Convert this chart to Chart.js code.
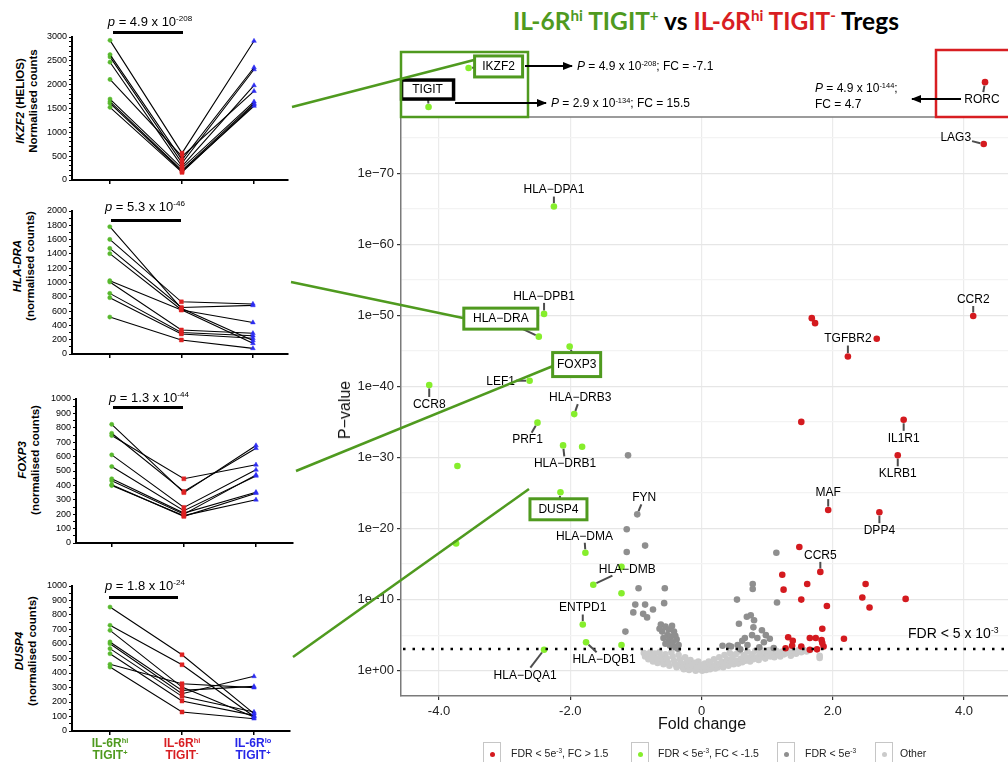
<!DOCTYPE html>
<html lang="en">
<head>
<meta charset="UTF-8">
<title>IL-6Rhi TIGIT+ vs IL-6Rhi TIGIT- Tregs</title>
<script src="https://cdn.jsdelivr.net/npm/chart.js"></script>
<style>
body{margin:0;background:#fff;font-family:"Liberation Sans",Arial,Helvetica,sans-serif;color:#000}
#page{position:relative;width:1008px;height:762px;overflow:hidden}
canvas{position:absolute}
.abs{position:absolute;white-space:nowrap}
sup{font-size:62%;line-height:0;vertical-align:0.6em}
#title{left:513px;top:6px;font:bold 24.5px Lato,"Open Sans",sans-serif;line-height:30px}
.green{color:#4f9a1f}.red{color:#d81e22}.blue{color:#2626e8}
.ytitle{transform:translate(-50%,-50%) rotate(-90deg);font-weight:bold;font-size:11.5px;line-height:12.5px;text-align:center}
.plab{font-size:13px;transform:translate(-50%,-50%)}
.pbar{position:absolute;height:3px;background:#000}
.cat{font-weight:bold;font-size:12px;line-height:12px;text-align:center;transform:translateX(-50%)}
.ann{font-size:12px;line-height:16px}
.axt{font-size:16px;color:#111}
.leg{font-size:10.5px;color:#222}
.legbox{position:absolute;width:16px;height:24px;border:1.5px solid #c6c6c6;background:#fff}
.legdot{position:absolute;width:5px;height:5px;border-radius:50%;left:5.5px;top:8.5px}
</style>
</head>
<body>
<div id="page">
  <div id="title" class="abs"><span class="green">IL-6R<sup>hi</sup> TIGIT<sup>+</sup></span> vs <span class="red">IL-6R<sup>hi</sup> TIGIT<sup>-</sup></span> Tregs</div>

  <!-- paired plots -->
  <canvas id="p1"></canvas>
  <canvas id="p2"></canvas>
  <canvas id="p3"></canvas>
  <canvas id="p4"></canvas>

  <div class="abs ytitle" style="left:26px;top:101px"><i>IKZF2</i> (HELIOS)<br>Normalised counts</div>
  <div class="abs ytitle" style="left:23px;top:266px"><i>HLA-DRA</i><br>(normalised counts)</div>
  <div class="abs ytitle" style="left:28px;top:460px"><i>FOXP3</i><br>(normalised counts)</div>
  <div class="abs ytitle" style="left:25px;top:651px"><i>DUSP4</i><br>(normalised counts)</div>

  <div class="abs plab" style="left:150px;top:21px"><i>p</i> = 4.9 x 10<sup>-208</sup></div>
  <div class="pbar" style="left:113px;top:31px;width:70px"></div>
  <div class="abs plab" style="left:145px;top:206px"><i>p</i> = 5.3 x 10<sup>-46</sup></div>
  <div class="pbar" style="left:111px;top:219px;width:70px"></div>
  <div class="abs plab" style="left:149px;top:397px"><i>p</i> = 1.3 x 10<sup>-44</sup></div>
  <div class="pbar" style="left:113px;top:406px;width:70px"></div>
  <div class="abs plab" style="left:145px;top:585px"><i>p</i> = 1.8 x 10<sup>-24</sup></div>
  <div class="pbar" style="left:109px;top:596px;width:69px"></div>

  <div class="abs cat green" style="left:110px;top:737px">IL-6R<sup>hi</sup><br>TIGIT<sup>+</sup></div>
  <div class="abs cat red" style="left:182px;top:737px">IL-6R<sup>hi</sup><br>TIGIT<sup>-</sup></div>
  <div class="abs cat blue" style="left:253px;top:737px">IL-6R<sup>lo</sup><br>TIGIT<sup>+</sup></div>

  <!-- volcano -->
  <canvas id="volcano"></canvas>
  <div class="abs axt" style="left:345px;top:410px;transform:translate(-50%,-50%) rotate(-90deg)">P−value</div>
  <div class="abs axt" style="left:702px;top:724px;transform:translate(-50%,-50%)">Fold change</div>
  <div class="abs" style="left:908px;top:625px;font-size:14px">FDR &lt; 5 x 10<sup>-3</sup></div>

  <div class="abs ann" style="left:577px;top:58px"><i>P</i> = 4.9 x 10<sup>-208</sup>; FC = -7.1</div>
  <div class="abs ann" style="left:551px;top:95px"><i>P</i> = 2.9 x 10<sup>-134</sup>; FC = 15.5</div>
  <div class="abs ann" style="left:815px;top:80px"><i>P</i> = 4.9 x 10<sup>-144</sup>;<br>FC = 4.7</div>

  <!-- legend -->
  <div class="legbox" style="left:483px;top:742px"><div class="legdot" style="background:#d41a1f"></div></div>
  <div class="abs leg" style="left:511px;top:747px">FDR &lt; 5e<sup>-3</sup>, FC &gt; 1.5</div>
  <div class="legbox" style="left:631px;top:742px"><div class="legdot" style="background:#86ee2c"></div></div>
  <div class="abs leg" style="left:658px;top:747px">FDR &lt; 5e<sup>-3</sup>, FC &lt; -1.5</div>
  <div class="legbox" style="left:777px;top:742px"><div class="legdot" style="background:#8f8f8f"></div></div>
  <div class="abs leg" style="left:805px;top:747px">FDR &lt; 5e<sup>-3</sup></div>
  <div class="legbox" style="left:875px;top:742px"><div class="legdot" style="background:#cbcbcb"></div></div>
  <div class="abs leg" style="left:900px;top:747px">Other</div>

  <svg class="abs" width="1008" height="762" style="left:0;top:0;pointer-events:none">
    <defs>
      <marker id="ah" markerWidth="10" markerHeight="8" refX="9" refY="4" orient="auto" markerUnits="userSpaceOnUse">
        <path d="M0,0 L10,4 L0,8 z" fill="#000"/>
      </marker>
    </defs>
    <!-- connectors -->
    <g stroke="#4f9a1f" stroke-width="2.5" fill="none">
      <line x1="292" y1="107" x2="474" y2="60"/>
      <line x1="291" y1="282" x2="463" y2="318"/>
      <line x1="296" y1="471" x2="553" y2="366"/>
      <line x1="293" y1="657" x2="529" y2="489"/>
      <rect x="401" y="52" width="127" height="65"/>
    </g>
    <rect x="936" y="50" width="80" height="67" stroke="#d81e22" stroke-width="2.5" fill="none"/>
    <g stroke="#000" stroke-width="2">
      <line x1="525" y1="66" x2="572" y2="66" marker-end="url(#ah)"/>
      <line x1="455" y1="103" x2="546" y2="103" marker-end="url(#ah)"/>
      <line x1="961" y1="99" x2="912" y2="99" marker-end="url(#ah)"/>
    </g>
  </svg>
</div>

<script>
/* ---------- data: paired counts (rows = donors, cols = groups) ---------- */
const groups = ['IL-6Rhi TIGIT+', 'IL-6Rhi TIGIT-', 'IL-6Rlo TIGIT+'];
const ikzf2Counts = [[2930,564,2916],[2631,425,2360],[2582,355,2318],[2471,285,1984],[2109,494,1865],
                     [1698,250,1643],[1643,202,1608],[1608,180,1552],[1524,160,1580]];
const hladraCounts = [[1780,640,190],[1603,730,700],[1477,650,680],[1403,620,150],[1025,615,440],
                      [1007,336,290],[848,300,256],[788,280,220],[517,196,79]];
const foxp3Counts  = [[824,350,677],[762,358,658],[746,446,543],[612,247,508],[531,224,466],
                      [446,208,353],[432,200,473],[404,185,346],[399,190,300]];
const dusp4Counts  = [[855,526,120],[729,457,100],[694,303,97],[614,280,308],[602,257,377],
                      [568,239,131],[533,207,108],[460,326,299],[441,131,85]];

/* ---------- data: volcano  [gene, fold change, -log10 P] ---------- */
// IKZF2, TIGIT and RORC sit above the axis break (top inset)
const upGenes = [
  ['LAG3',4.30,74.1],['CCR2',4.14,49.9],['',1.68,49.6],['',1.73,48.9],['',2.67,46.7],['TGFBR2',2.23,44.2],
  ['',1.52,35.0],['IL1R1',3.08,35.3],['KLRB1',2.99,30.3],['MAF',1.93,22.6],['DPP4',2.71,22.3],['',1.49,17.4],
  ['CCR5',1.81,13.9],['',1.23,13.5],['',1.61,12.2],['',2.50,12.2],['',1.25,11.4],['',1.52,10.0],['',2.45,10.3],
  ['',3.11,10.1],['',1.91,9.1],['',2.56,8.9],['',1.84,5.9],['',2.17,4.5],['',1.32,4.7],['',1.39,4.2],['',1.65,4.6],
  ['',1.74,4.6],['',1.83,4.3],['',1.28,3.15],['',1.38,3.5],['',1.52,3.4],['',1.65,2.95],['',1.76,3.0],['',1.86,3.4],
  ['',1.84,3.9],['RORC',4.32,82.8]
];
const downGenes = [
  ['HLA−DPA1',-2.25,65.3],['HLA−DPB1',-2.40,50.2],['HLA−DRA',-2.48,47.0],['FOXP3',-2.01,45.6],['LEF1',-2.62,40.8],
  ['CCR8',-4.15,40.2],['HLA−DRB3',-1.94,36.1],['PRF1',-2.50,34.9],['HLA−DRB1',-2.11,31.7],['',-1.82,31.5],
  ['',-3.72,28.8],['DUSP4',-2.15,25.1],['',-3.74,17.9],['HLA−DMA',-1.77,16.6],['',-1.22,14.6],['HLA−DMB',-1.65,12.1],
  ['',-1.22,10.9],['ENTPD1',-1.81,6.5],['HLA−DQB1',-1.76,4.0],['',-1.22,3.6],['HLA−DQA1',-2.40,2.95],
  ['IKZF2',-3.55,84.8],['TIGIT',-4.16,79.3]
];
const sigGenes = [
  ['FYN',-0.98,22.0],['',-1.12,30.3],['',-1.14,19.9],['',-0.86,17.6],['',-1.14,16.7],['',-0.96,11.6],['',-0.56,11.6],
  ['',-0.57,9.5],['',-1.01,9.3],['',-1.04,8.2],['',-0.89,8.0],['',-0.83,7.5],['',-0.74,8.6],['',-0.86,9.3],['',-1.16,5.5],
  ['',-0.62,6.5],['',-0.55,6.2],['',-0.50,5.8],['',-0.45,6.3],['',-0.60,5.5],['',-0.52,5.0],['',-0.47,4.8],['',-0.42,5.5],
  ['',-0.58,4.6],['',-0.50,4.2],['',-0.44,4.0],['',-0.38,4.4],['',-0.55,3.8],['',-0.48,3.5],['',-0.40,3.3],['',-0.35,3.6],
  ['',-0.36,3.1],['',-0.64,5.9],['',-0.40,4.9],
  ['',1.14,16.6],['',0.78,12.2],['',0.78,11.5],['',0.54,10.0],['',1.15,9.6],['',0.75,7.8],['',0.69,7.6],['',0.80,7.1],
  ['',0.57,6.6],['',0.79,6.1],['',0.92,5.7],['',0.98,5.0],['',1.04,4.5],['',0.66,4.6],['',0.62,4.2],['',0.77,5.0],
  ['',0.85,4.6],['',0.70,3.6],['',0.55,3.6],['',0.45,3.4],['',0.32,3.5],['',0.42,3.5],['',0.59,3.0],['',0.88,3.3],
  ['',0.95,4.0],['',1.10,3.2]
];
const otherGenes = [
  [-0.88,2.5],[-0.86,2.0],[-0.83,2.3],[-0.81,1.6],[-0.78,2.6],[-0.76,2.0],[-0.74,1.3],[-0.71,2.4],[-0.69,1.7],[-0.67,1.1],
  [-0.64,2.6],[-0.62,2.0],[-0.60,1.4],[-0.58,0.9],[-0.55,2.3],[-0.53,1.7],[-0.51,1.1],[-0.49,0.7],[-0.46,2.6],[-0.44,2.0],
  [-0.42,1.4],[-0.40,0.9],[-0.38,0.5],[-0.35,2.2],[-0.33,1.6],[-0.31,1.0],[-0.29,0.5],[-0.27,0.2],
  [-0.25,1.9],[-0.23,1.2],[-0.21,0.6],[-0.19,0.1],[-0.17,1.5],[-0.15,0.8],[-0.13,0.3],[-0.11,1.1],[-0.09,0.0],[-0.07,0.5],
  [-0.05,1.3],[-0.03,0.2],[-0.01,0.8],[0.01,0.0],[0.03,0.4],[0.05,1.0],[0.07,0.1],[0.09,0.6],[0.11,1.3],[0.13,0.2],
  [0.15,0.8],[0.17,0.4],[0.19,1.6],[0.21,0.3],[0.23,1.0],[0.25,0.5],
  [0.27,1.9],[0.29,0.8],[0.31,1.3],[0.33,0.5],[0.35,2.2],[0.37,1.0],[0.39,1.6],[0.41,0.7],[0.43,2.5],[0.45,1.2],
  [0.47,1.9],[0.49,0.9],[0.52,2.3],[0.54,1.4],[0.56,1.0],[0.58,2.7],[0.60,1.7],[0.62,1.2],[0.65,2.2],[0.67,1.4],
  [0.70,2.7],[0.72,1.8],[0.74,1.3],[0.77,2.3],[0.79,1.6],[0.82,2.8],[0.84,1.9],[0.87,1.5],[0.89,2.5],[0.92,2.0],
  [0.95,2.8],[0.97,1.7],[1.00,2.3],[1.03,2.9],[1.05,2.0],[1.08,2.5],[1.11,1.9],[1.14,2.8],[1.17,2.3],[1.20,2.0],
  [1.23,2.7],[1.26,2.3],[1.30,2.9],[1.33,2.5],[1.36,2.1],[1.40,2.8],[1.44,2.4],[1.48,2.9],[1.52,2.6],[1.56,2.9],
  [1.60,2.7],[1.65,2.9],[1.80,2.1],[1.80,1.8]
];
const fdrLogP = 3.05;
const xTicks = [-4, -2, 0, 2, 4];

/* ---------- styles ---------- */
Chart.defaults.font.family = '"Liberation Sans", Arial, Helvetica, sans-serif';
const C_UP = '#d41a1f', C_DOWN = '#86ee2c', C_SIG = '#8f8f8f', C_OTHER = '#cbcbcb', C_BOX = '#4f9a1f';

// label placement (px from point) and boxed labels
const labelOffsets = {
  'HLA−DPA1':[0,-17],'HLA−DPB1':[0,-18],'HLA−DRA':[-38,-18],'FOXP3':[7,18],'LEF1':[-29,0],'CCR8':[0,19],
  'HLA−DRB3':[6,-17],'PRF1':[-10,17],'HLA−DRB1':[2,18],'FYN':[7,-17],'DUSP4':[-2,17],'HLA−DMA':[-1,-17],
  'HLA−DMB':[34,-16],'ENTPD1':[0,-17],'HLA−DQB1':[18,17],'HLA−DQA1':[-19,25],'LAG3':[-28,-7],'CCR2':[0,-17],
  'TGFBR2':[0,-18],'IL1R1':[0,18],'KLRB1':[0,18],'MAF':[0,-18],'DPP4':[0,18],'CCR5':[0,-17],
  'IKZF2':[30,-1.5],'TIGIT':[-1,-17.5],'RORC':[-3,17]
};
const labelBoxes = {
  'HLA−DRA':{w:74,h:21,c:C_BOX,lw:3}, 'FOXP3':{w:48,h:24,c:C_BOX,lw:3}, 'DUSP4':{w:57,h:21,c:C_BOX,lw:3},
  'IKZF2':{w:48,h:21,c:C_BOX,lw:3}, 'TIGIT':{w:52,h:19,c:'#000',lw:3.5}
};

/* ---------- paired panels ---------- */
function makePanel(id, area, rows, yMax, minor, major, xMin, xMax){
  const cv = document.getElementById(id);
  cv.width = area.r - area.l + 44; cv.height = area.b - area.t + 24;
  cv.style.left = (area.l - 32) + 'px'; cv.style.top = (area.t - 12) + 'px';
  new Chart(cv, {
    type:'line',
    data:{datasets: rows.map(r => ({
      data: r.map((v,i) => ({x:i+1, y:v})),
      borderColor:'#000', borderWidth:1.1, tension:0, clip:false,
      pointStyle:['circle','rect','triangle'], pointRadius:[2.1,2.8,2.7],
      pointBackgroundColor:['#58b82e','#de2222','#2c2cf2'],
      pointBorderColor:['#58b82e','#de2222','#2c2cf2'], pointBorderWidth:0.5
    }))},
    options:{
      responsive:false, animation:false, events:[],
      layout:{padding:{top:12,right:12,left:0,bottom:0}, autoPadding:false},
      plugins:{legend:{display:false}, tooltip:{enabled:false}},
      scales:{
        x:{type:'linear', min:xMin, max:xMax,
           afterBuildTicks:s => { s.ticks = [1,2,3].map(v => ({value:v})); },
           afterFit:s => { s.height = 12; },
           grid:{drawOnChartArea:false, color:'#000', lineWidth:1.5, tickLength:4},
           border:{color:'#000', width:2},
           ticks:{callback:() => '', autoSkip:false}},
        y:{type:'linear', min:0, max:yMax,
           afterBuildTicks:s => { const t=[]; for(let v=0; v<=yMax; v+=minor) t.push({value:v}); s.ticks=t; },
           afterFit:s => { s.width = 32; },
           grid:{drawOnChartArea:false, color:'#000', lineWidth:1, tickLength:3},
           border:{color:'#000', width:2},
           ticks:{autoSkip:false, padding:2, color:'#000', font:{size:9},
                  callback:v => v % major === 0 ? String(v) : ''}}
      }
    }
  });
}
makePanel('p1', {l:72,t:37,r:288,b:180}, ikzf2Counts, 3000, 100, 500, 0.472, 3.472);
makePanel('p2', {l:72,t:211,r:288,b:354}, hladraCounts, 2000, 100, 200, 0.472, 3.49);
makePanel('p3', {l:76,t:399,r:293,b:543}, foxp3Counts, 1000, 50, 100, 0.505, 3.513);
makePanel('p4', {l:72,t:586,r:290,b:731}, dusp4Counts, 1000, 50, 100, 0.472, 3.5);

/* ---------- volcano ---------- */
const volcanoDecor = {
  id:'volcanoDecor',
  afterDatasetsDraw(chart){
    const {ctx, chartArea:a, scales:{y}} = chart;
    ctx.save();
    ctx.strokeStyle = '#7a7a7a'; ctx.lineWidth = 1.5;
    ctx.beginPath(); ctx.moveTo(a.left, a.top); ctx.lineTo(a.right, a.top); ctx.stroke();
    const yy = y.getPixelForValue(fdrLogP);
    ctx.setLineDash([2.5,7]); ctx.lineWidth = 2.5; ctx.strokeStyle = '#000';
    ctx.beginPath(); ctx.moveTo(a.left + 2, yy); ctx.lineTo(a.right, yy); ctx.stroke();
    ctx.setLineDash([]);
    ctx.font = '12px "Liberation Sans", Arial, sans-serif';
    ctx.textAlign = 'center'; ctx.textBaseline = 'middle';
    chart.data.datasets.forEach((ds, d) => {
      const meta = chart.getDatasetMeta(d);
      ds.data.forEach((pt, i) => {
        const el = meta.data[i];
        // points above the axis break are skipped by Chart.js, draw them here
        if (el.y < a.top) {
          ctx.fillStyle = ds.backgroundColor;
          ctx.beginPath(); ctx.arc(el.x, el.y, ds.pointRadius, 0, Math.PI*2); ctx.fill();
        }
        if (!pt.name) return;
        const off = labelOffsets[pt.name] || [0,-17];
        const px = el.x, py = el.y, lx = px + off[0], ly = py + off[1];
        const box = labelBoxes[pt.name];
        const tw = ctx.measureText(pt.name).width;
        const hw = box ? box.w/2 : tw/2 + 1, hh = box ? box.h/2 : 7;
        const vx = px - lx, vy = py - ly, dist = Math.hypot(vx, vy);
        const t = Math.min(vx ? hw/Math.abs(vx) : Infinity, vy ? hh/Math.abs(vy) : Infinity);
        if (t < 1) {
          const sx = lx + vx*t, sy = ly + vy*t, ex = px - vx/dist*3.5, ey = py - vy/dist*3.5;
          if (Math.hypot(ex-sx, ey-sy) > 1) {
            ctx.strokeStyle = '#4d4d4d'; ctx.lineWidth = 2;
            ctx.beginPath(); ctx.moveTo(sx, sy); ctx.lineTo(ex, ey); ctx.stroke();
          }
        }
        if (box) {
          ctx.fillStyle = '#fff'; ctx.fillRect(lx-hw, ly-hh, box.w, box.h);
          ctx.strokeStyle = box.c; ctx.lineWidth = box.lw; ctx.strokeRect(lx-hw, ly-hh, box.w, box.h);
        }
        ctx.fillStyle = '#000'; ctx.fillText(pt.name, lx, ly + 0.5);
      });
    });
    ctx.restore();
  }
};

const vc = document.getElementById('volcano');
vc.width = 678; vc.height = 722; vc.style.left = '330px'; vc.style.top = '40px';
const toPts = arr => arr.map(g => ({x:g[1], y:g[2], name:g[0]}));
new Chart(vc, {
  type:'scatter',
  data:{datasets:[
    {label:'FDR < 5e-3, FC > 1.5', data:toPts(upGenes), backgroundColor:C_UP, pointRadius:3.3, pointBorderWidth:0, clip:false},
    {label:'FDR < 5e-3, FC < -1.5', data:toPts(downGenes), backgroundColor:C_DOWN, pointRadius:3.3, pointBorderWidth:0, clip:false},
    {label:'FDR < 5e-3', data:toPts(sigGenes), backgroundColor:C_SIG, pointRadius:3.3, pointBorderWidth:0, clip:false},
    {label:'Other', data:otherGenes.map(g => ({x:g[0], y:g[1]})), backgroundColor:C_OTHER, pointRadius:3.3, pointBorderWidth:0, clip:false}
  ]},
  options:{
    responsive:false, animation:false, events:[],
    layout:{padding:{top:77,right:0,left:0,bottom:0}, autoPadding:false},
    plugins:{legend:{display:false}, tooltip:{enabled:false}},
    scales:{
      x:{type:'linear', min:-4.58, max:4.67,
         afterBuildTicks:s => { s.ticks = xTicks.map(v => ({value:v})); },
         afterFit:s => { s.height = 66; },
         grid:{color:'#ebebeb', lineWidth:1.2, tickColor:'#333', tickLength:4},
         border:{color:'#7a7a7a', width:1.5},
         ticks:{autoSkip:false, maxRotation:0, padding:4, color:'#222', font:{size:13},
                callback:v => v === 0 ? '0' : v.toFixed(1)}},
      y:{type:'linear', min:-3.56, max:77.9,
         afterBuildTicks:s => { const t=[]; for(let v=0; v<=75; v+=5) t.push({value:v}); s.ticks=t; },
         afterFit:s => { s.width = 71; },
         grid:{color:c => (c.tick && c.tick.value % 10 === 0) ? '#e6e6e6' : '#f3f3f3', lineWidth:1.2,
               tickColor:c => (c.tick && c.tick.value % 10 === 0) ? '#333' : 'rgba(0,0,0,0)', tickLength:4},
         border:{color:'#7a7a7a', width:1.5},
         ticks:{autoSkip:false, padding:3, color:'#222', font:{size:13},
                callback:v => v % 10 === 0 ? (v === 0 ? '1e+00' : '1e−' + v) : ''}}
    }
  },
  plugins:[volcanoDecor]
});
</script>
</body>
</html>
